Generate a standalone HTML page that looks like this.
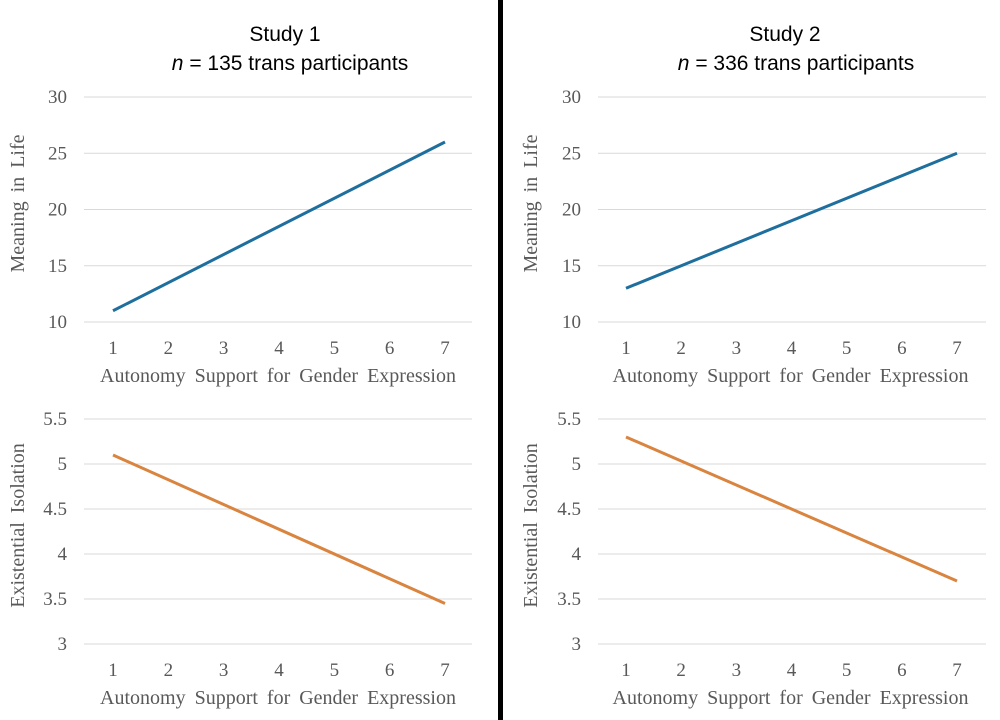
<!DOCTYPE html>
<html><head><meta charset="utf-8"><style>
body{margin:0;background:#fff;width:1000px;height:720px;overflow:hidden}
svg{display:block}
.tick{font-family:"Liberation Serif",serif;font-size:19px;fill:#595959}
.ttl{font-family:"Liberation Serif",serif;font-size:20px;fill:#595959}
.head{font-family:"Liberation Sans",sans-serif;font-size:21px;fill:#000}
</style></head><body>
<svg id="c" width="1000" height="720">
<rect x="498" y="0" width="5" height="720" fill="#000"/>
<text class="head" x="285" y="41" text-anchor="middle">Study 1</text>
<text class="head" x="290" y="70" text-anchor="middle"><tspan font-style="italic">n</tspan> = 135 trans participants</text>
<text class="head" x="785" y="41" text-anchor="middle">Study 2</text>
<text class="head" x="796" y="70" text-anchor="middle"><tspan font-style="italic">n</tspan> = 336 trans participants</text>
</svg>
<script>
const xCats=[1,2,3,4,5,6,7];
const lineX=[1,7];
const s1Meaning=[11,26];
const s2Meaning=[13,25];
const s1Isolation=[5.1,3.45];
const s2Isolation=[5.3,3.7];
const meaningTicks=[10,15,20,25,30];
const isolationTicks=[3,3.5,4,4.5,5,5.5];
const NS='http://www.w3.org/2000/svg';
const svg=document.getElementById('c');
function mk(t,a){const e=document.createElementNS(NS,t);for(const k in a)e.setAttribute(k,a[k]);svg.appendChild(e);return e;}
function panel(p){
  const xs=v=>p.x1+(v-1)*(p.x7-p.x1)/6;
  const ys=v=>p.yBot+(v-p.tMin)*(p.yTop-p.yBot)/(p.tMax-p.tMin);
  p.ticks.forEach(t=>{
    const g=mk('line',{x1:p.gx0,x2:p.gx1,y1:ys(t),y2:ys(t),stroke:'#d9d9d9','stroke-width':1});
    
    
    const l=mk('text',{x:p.lx,y:ys(t)+6,'text-anchor':'end',class:'tick'});
    l.textContent=String(t);
    
    
  });
  xCats.forEach(c=>{
    const l=mk('text',{x:xs(c),y:p.yBot+32,'text-anchor':'middle',class:'tick'});
    l.textContent=String(c);
    
    
  });
  const xt=mk('text',{x:(p.x1+p.x7)/2-1,y:p.yBot+60,'text-anchor':'middle',class:'ttl','word-spacing':'4'});
  xt.textContent='Autonomy Support for Gender Expression';
  
  
  const cy=(p.yTop+p.yBot)/2-6;
  const yt=mk('text',{x:p.tx,y:cy,'text-anchor':'middle',class:'ttl',transform:`rotate(-90 ${p.tx} ${cy})`,'word-spacing':'4'});
  yt.textContent=p.ytitle;
  
  
  const pts=lineX.map((x,i)=>xs(x)+','+ys(p.vals[i])).join(' ');
  const ln=mk('polyline',{points:pts,fill:'none',stroke:p.color,'stroke-width':3});
  
  
}
panel({x1:113,x7:445,gx0:84,gx1:472,lx:67,tx:24,yTop:97,yBot:322,tMin:10,tMax:30,ticks:meaningTicks,vals:s1Meaning,color:'#1f6f9e',ytitle:'Meaning in Life',name:'study1-meaning-line'});
panel({x1:626,x7:957,gx0:598,gx1:986,lx:581,tx:537,yTop:97,yBot:322,tMin:10,tMax:30,ticks:meaningTicks,vals:s2Meaning,color:'#1f6f9e',ytitle:'Meaning in Life',name:'study2-meaning-line'});
panel({x1:113,x7:445,gx0:84,gx1:472,lx:67,tx:24,yTop:419,yBot:644,tMin:3,tMax:5.5,ticks:isolationTicks,vals:s1Isolation,color:'#d9843f',ytitle:'Existential Isolation',name:'study1-isolation-line'});
panel({x1:626,x7:957,gx0:598,gx1:986,lx:581,tx:537,yTop:419,yBot:644,tMin:3,tMax:5.5,ticks:isolationTicks,vals:s2Isolation,color:'#d9843f',ytitle:'Existential Isolation',name:'study2-isolation-line'});
</script>
</body></html>
